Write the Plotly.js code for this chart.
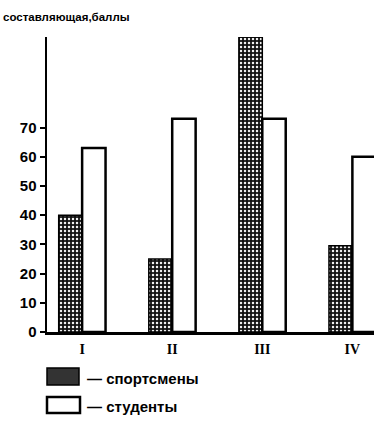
<!DOCTYPE html>
<html>
<head>
<meta charset="utf-8">
<script src="https://cdn.plot.ly/plotly-3.0.1.min.js"></script>
<style>html,body{margin:0;padding:0;background:#fff;}#chart{width:376px;height:424px;}</style>
</head>
<body>
<div id="chart"></div>
<script>
const categories = ['I', 'II', 'III', 'IV'];
const sportsmen = [40, 25, 101, 29.5];
const students = [63, 73, 73, 60];
const seriesNames = ['— спортсмены', '— студенты'];
const yTicks = [0, 10, 20, 30, 40, 50, 60, 70];
const titleText = 'составляющая,баллы';

const L = 47, R = 2, T = 37, B = 92, W = 376, H = 424;
const pw = W - L - R, ph = H - T - B;
const px = x => (x - L) / pw;
const py = y => (H - B - y) / ph;

const traces = [
  {
    type: 'bar', x: categories, y: sportsmen, name: seriesNames[0],
    marker: {
      color: '#111',
      line: {color: '#000', width: 1.5},
      pattern: {shape: '.', bgcolor: '#111', fgcolor: '#f0f0f0', size: 4, solidity: 0.3, fillmode: 'replace'}
    },
    showlegend: false, hoverinfo: 'skip'
  },
  {
    type: 'bar', x: categories, y: students, name: seriesNames[1],
    marker: {color: '#fff', line: {color: '#000', width: 2.5}},
    showlegend: false, hoverinfo: 'skip'
  }
];

const layout = {
  width: W, height: H,
  margin: {l: L, r: R, t: T, b: B, pad: 0},
  paper_bgcolor: '#fff', plot_bgcolor: '#fff',
  barmode: 'group', bargap: 0.48, bargroupgap: 0,
  showlegend: false,
  title: {text: titleText, x: 0.008, xanchor: 'left', xref: 'container', y: 0.96, yanchor: 'middle', yref: 'container',
          font: {family: 'Liberation Sans', size: 11.5, color: '#000', weight: 'bold'}},
  xaxis: {
    type: 'category', range: [-0.39, 3.24],
    showline: true, linecolor: '#000', linewidth: 3,
    showgrid: false, zeroline: false, ticks: '',
    tickfont: {family: 'Liberation Serif', size: 14, color: '#000', weight: 'bold'},
    ticklabelstandoff: 2
  },
  yaxis: {
    range: [0, 101], tickvals: yTicks, ticktext: yTicks.map(String),
    showline: true, linecolor: '#000', linewidth: 2.5,
    showgrid: false, zeroline: false,
    ticks: 'outside', ticklen: 5, tickwidth: 2, tickcolor: '#000',
    tickfont: {family: 'Liberation Sans', size: 15, color: '#000', weight: 'bold'}
  },
  shapes: [
    {type: 'rect', xref: 'paper', yref: 'paper', x0: px(47), x1: px(79), y0: py(385), y1: py(368),
     fillcolor: '#333', line: {color: '#000', width: 1.5}},
    {type: 'rect', xref: 'paper', yref: 'paper', x0: px(47), x1: px(80), y0: py(413), y1: py(397),
     fillcolor: '#fff', line: {color: '#000', width: 2.5}}
  ],
  annotations: [
    {xref: 'paper', yref: 'paper', x: px(85), y: py(378), xanchor: 'left', yanchor: 'middle', showarrow: false,
     text: seriesNames[0], font: {family: 'Liberation Sans', size: 15, color: '#000', weight: 'bold'}},
    {xref: 'paper', yref: 'paper', x: px(85), y: py(406), xanchor: 'left', yanchor: 'middle', showarrow: false,
     text: seriesNames[1], font: {family: 'Liberation Sans', size: 15, color: '#000', weight: 'bold'}}
  ]
};

Plotly.newPlot('chart', traces, layout, {staticPlot: true, displayModeBar: false});
</script>
</body>
</html>
